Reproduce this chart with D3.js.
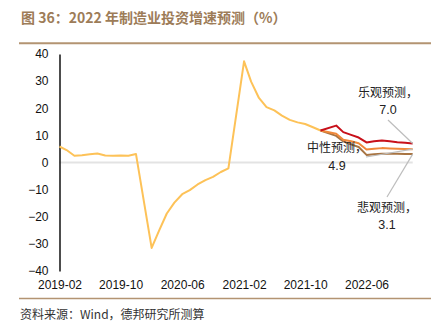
<!DOCTYPE html>
<html><head><meta charset="utf-8">
<script src="https://cdn.jsdelivr.net/npm/d3@7"></script>
<style>
html,body{margin:0;padding:0;background:#fff;}
svg{display:block;}
</style></head>
<body>
<svg id="c" width="434" height="334"></svg>
<script>
// ---- data ----
const histMonths = ["2019-02","2019-03","2019-04","2019-05","2019-06","2019-07","2019-08","2019-09","2019-10","2019-11","2019-12",
  "2020-02","2020-03","2020-04","2020-05","2020-06","2020-07","2020-08","2020-09","2020-10","2020-11","2020-12",
  "2021-02","2021-03","2021-04","2021-05","2021-06","2021-07","2021-08","2021-09","2021-10","2021-11","2021-12"];
const histValues = [5.9,4.6,2.5,2.7,3.0,3.3,2.6,2.5,2.6,2.5,3.1,
  -31.5,-25.2,-18.8,-14.8,-11.7,-10.2,-8.1,-6.5,-5.3,-3.5,-2.2,
  37.3,29.8,23.8,20.4,19.2,17.3,15.7,14.8,14.2,13.0,11.8];
const fcMonths = ["2021-12","2022-02","2022-03","2022-04","2022-05","2022-06","2022-07","2022-08","2022-09","2022-10","2022-11","2022-12"];
const optimistic  = [11.8,13.6,11.2,10.2,9.2,7.4,7.8,8.1,7.8,7.5,7.3,7.0];
const neutral     = [11.8,10.6,8.4,7.8,7.1,4.8,5.1,5.3,5.2,5.1,5.0,4.9];
const pessimistic = [11.8,9.8,7.8,6.7,5.7,2.8,3.0,3.2,3.2,3.2,3.1,3.1];
const xTickLabels = ["2019-02","2019-10","2020-06","2021-02","2021-10","2022-06"];
const yTicks = [40,30,20,10,0,-10,-20,-30,-40];
const seriesNames = ["乐观预测，","中性预测，","悲观预测，"];
const title = "图 36：2022 年制造业投资增速预测（%）";
const source = "资料来源：Wind，德邦研究所测算";

// ---- drawing ----
const parse = d3.timeParse("%Y-%m");
const fmt = d3.timeFormat("%Y-%m");
const svg = d3.select("#c");
const cjk = "'Noto Sans CJK SC','Liberation Sans',sans-serif";
const lat = "'Liberation Sans',Arial,sans-serif";

const x = d3.scaleTime().domain([parse("2019-02"), parse("2022-12")]).range([59.5, 412.7]);
const y = d3.scaleLinear().domain([-40, 40]).range([271, 54]);

// title
svg.append("text").attr("x", 21).attr("y", 23).attr("fill", "#9d7c58")
  .style("font-family", cjk).style("font-weight", "bold").style("font-size", "14px").text(title);
svg.append("line").attr("x1", 19).attr("x2", 431).attr("y1", 43.3).attr("y2", 43.3)
  .attr("stroke", "#b39472").attr("stroke-width", 2);

// zero line
svg.append("line").attr("x1", x(parse("2019-02"))).attr("x2", x(parse("2022-12")))
  .attr("y1", y(0)).attr("y2", y(0)).attr("stroke", "#e3e3e3").attr("stroke-width", 1.8);

// y axis
const yAxis = d3.axisLeft(y).tickValues(yTicks).tickSize(0).tickPadding(11);
const gy = svg.append("g").attr("transform", "translate(59.5,0)").call(yAxis);
gy.select(".domain").attr("stroke", "#000").attr("stroke-width", 1.4);
gy.selectAll("text").style("font-family", lat).style("font-size", "12px").attr("fill", "#111");

// x axis
const xAxis = d3.axisBottom(x).tickValues(xTickLabels.map(parse)).tickFormat(fmt).tickSize(0).tickPadding(9);
const gx = svg.append("g").attr("transform", "translate(0,271)").call(xAxis);
gx.select(".domain").remove();
gx.selectAll("text").style("font-family", lat).style("font-size", "12px").attr("fill", "#111");

// lines
const line = d3.line().x(d => x(d[0])).y(d => y(d[1]));
const hist = histMonths.map((m, i) => [parse(m), histValues[i]]);
svg.append("path").datum(hist).attr("d", line).attr("fill", "none")
  .attr("stroke", "#fdc258").attr("stroke-width", 2).attr("stroke-linejoin", "round");

const fcSeries = [
  {vals: pessimistic, color: "#a87442"},
  {vals: neutral, color: "#f0883a"},
  {vals: optimistic, color: "#c8101a"}
];
fcSeries.forEach(s => {
  const pts = fcMonths.map((m, i) => [parse(m), s.vals[i]]);
  svg.append("path").datum(pts).attr("d", line).attr("fill", "none")
    .attr("stroke", s.color).attr("stroke-width", 2).attr("stroke-linejoin", "round");
});

// annotations
const endX = x(parse(fcMonths[fcMonths.length - 1]));
const last = a => a[a.length - 1];
const ann = [
  {name: seriesNames[0], val: last(optimistic), tx: 388, ty1: 97, ty2: 114, lx: 388, ly: 120},
  {name: seriesNames[1], val: last(neutral), tx: 337, ty1: 152, ty2: 170, lx: 366, ly: 157},
  {name: seriesNames[2], val: last(pessimistic), tx: 387, ty1: 212, ty2: 229, lx: 387, ly: 197}
];
ann.forEach(a => {
  svg.append("line").attr("x1", a.lx).attr("y1", a.ly).attr("x2", endX).attr("y2", y(a.val))
    .attr("stroke", "#bdbdbd").attr("stroke-width", 1.2);
  svg.append("text").attr("x", a.tx).attr("y", a.ty1).attr("text-anchor", "middle")
    .style("font-family", cjk).style("font-size", "12px").attr("fill", "#222").text(a.name);
  svg.append("text").attr("x", a.tx).attr("y", a.ty2).attr("text-anchor", "middle")
    .style("font-family", lat).style("font-size", "12.5px").attr("fill", "#222").text(a.val.toFixed(1));
});

// footer
svg.append("line").attr("x1", 19).attr("x2", 431).attr("y1", 298.5).attr("y2", 298.5)
  .attr("stroke", "#b39472").attr("stroke-width", 1.5);
svg.append("text").attr("x", 20).attr("y", 319).attr("fill", "#333")
  .style("font-family", cjk).style("font-size", "12px").text(source);
</script>
</body></html>
